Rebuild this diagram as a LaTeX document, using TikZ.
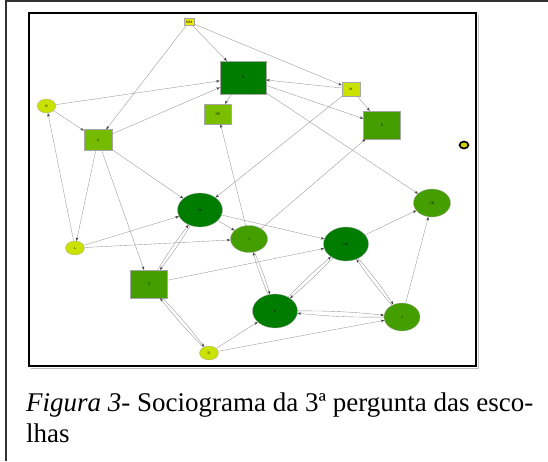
\documentclass[tikz,border=0pt]{standalone}
\usepackage{fontspec}
\setmainfont{Liberation Serif}
\usetikzlibrary{
  arrows.meta,
  shapes.geometric,
}
\definecolor{mmyellow}{RGB}{232,232,0}
\definecolor{lime}{RGB}{202,226,0}
\definecolor{leaf}{RGB}{122,190,0}
\definecolor{moss}{RGB}{68,158,0}
\definecolor{forest}{RGB}{0,124,0}
\tikzset{
  >={Stealth[length=3.6pt,width=2.6pt,color=black!75]},
  member/.style={draw=black!35, line width=0.3pt, inner sep=0pt,
    font=\sffamily\fontsize{3.4}{4}\selectfont},
  sq/.style={member, rectangle},
  ov/.style={member, ellipse},
  edge/.style={->, draw=black!42, line width=0.35pt},
}

\begin{document}
\begin{tikzpicture}[x=1pt, y=-1pt]
  \useasboundingbox (0,0) rectangle (548,461);
  % page frame and figure frame
  \draw[black!80, line width=1.4pt] (6,461) -- (6,1) -- (548,1);
  \draw[black!25, line width=1pt] (31,368) -- (478,368) -- (478,15);
  \draw[line width=1.6pt] (29,13) rectangle (476,366);

  % squares
  \node[sq, fill=mmyellow, minimum width=10pt, minimum height=7pt] (MM) at (189,22) {MM};
  \node[sq, fill=forest, minimum width=46pt, minimum height=33pt] (R) at (243,77.5) {R};
  \node[sq, fill=lime, minimum width=18pt, minimum height=14pt] (M) at (351,89) {M};
  \node[sq, fill=leaf, minimum width=27pt, minimum height=20pt] (DP) at (218,114) {DP};
  \node[sq, fill=moss, minimum width=37pt, minimum height=28pt] (S) at (382,125) {S};
  \node[sq, fill=leaf!90!moss, minimum width=28pt, minimum height=21pt] (G) at (98,140) {G};
  \node[sq, fill=moss, minimum width=37pt, minimum height=28pt] (T) at (149,284) {T};
  % ellipses
  \node[ov, fill=lime, minimum width=18.5pt, minimum height=14pt] (B) at (46.5,106) {B};
  \node[ov, fill=forest, minimum width=45pt, minimum height=34pt] (W) at (200,210) {W};
  \node[ov, fill=moss, minimum width=37pt, minimum height=28pt] (CK) at (432,203) {CK};
  \node[ov, fill=moss, minimum width=37pt, minimum height=27pt] (I) at (249,239) {I};
  \node[ov, fill=lime, minimum width=19pt, minimum height=14pt] (L) at (75,248) {L};
  \node[ov, fill=forest, minimum width=45pt, minimum height=34pt] (LN) at (346,244) {LN};
  \node[ov, fill=forest, minimum width=45pt, minimum height=34pt] (E) at (275,311) {E};
  \node[ov, fill=moss, minimum width=36pt, minimum height=28pt] (J) at (402,317) {J};
  \node[ov, fill=lime, minimum width=19pt, minimum height=14pt] (D) at (209,353) {D};
  \node[ov, fill=mmyellow!90!black, draw=black, line width=1.6pt,
    minimum width=9pt, minimum height=7pt] (iso) at (464,145) {};

  % one-way choices
  \foreach \a/\b in {MM/R, MM/G, MM/M, B/R, G/R, M/R, R/DP, R/S, M/S,
    R/CK, M/W, B/G, G/W, L/B, G/L, G/T, L/W, L/I, W/I, W/LN, I/DP,
    I/S, T/LN, D/J, D/E, J/CK, LN/CK}
    \draw[edge] (\a) -- (\b);

  % mutual choices
  \foreach \a/\b in {T/W, I/E, E/LN, LN/J, E/J, T/D} {
    \draw[edge] (\a) to[bend left=3] (\b);
    \draw[edge] (\b) to[bend left=3] (\a);
  }

  \node[anchor=base west, inner sep=0pt, font=\fontsize{27}{31}\selectfont]
    (cap1) at (26,411) {\textit{Figura 3}- Sociograma da 3ª pergunta das esco-};
  \node[anchor=base west, inner sep=0pt, font=\fontsize{27}{31}\selectfont]
    (cap2) at (26,442) {lhas};
\end{tikzpicture}
\end{document}
